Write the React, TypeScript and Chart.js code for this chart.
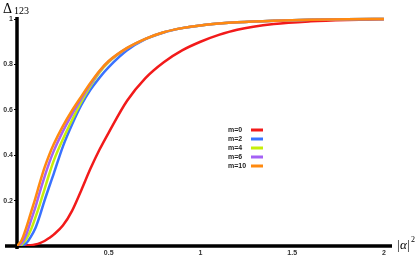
import React, { useEffect, useRef } from "react";
import { Chart, registerables } from "chart.js";

Chart.register(...registerables);

const xs = [0, 0.025, 0.05, 0.075, 0.1, 0.125, 0.15, 0.175, 0.2, 0.25, 0.3, 0.35, 0.4, 0.45, 0.5, 0.6, 0.7, 0.8, 0.9, 1.0, 1.1, 1.2, 1.4, 1.6, 1.8, 2.0];

const m0 = [0, 0.0005, 0.001, 0.003, 0.007, 0.013, 0.022, 0.035, 0.05, 0.09, 0.155, 0.245, 0.34, 0.425, 0.5, 0.64, 0.74, 0.81, 0.862, 0.9, 0.93, 0.953, 0.978, 0.99, 0.996, 0.999];
const m2 = [0, 0.002, 0.012, 0.04, 0.078, 0.135, 0.2, 0.26, 0.318, 0.438, 0.535, 0.62, 0.688, 0.742, 0.788, 0.862, 0.911, 0.941, 0.96, 0.972, 0.98, 0.986, 0.993, 0.997, 0.999, 1.0];
const m4 = [0, 0.006, 0.03, 0.07, 0.125, 0.185, 0.25, 0.315, 0.375, 0.47, 0.555, 0.635, 0.705, 0.765, 0.81, 0.871, 0.913, 0.942, 0.96, 0.972, 0.98, 0.986, 0.993, 0.997, 0.999, 1.0];
const m6 = [0, 0.012, 0.05, 0.11, 0.17, 0.24, 0.305, 0.365, 0.418, 0.505, 0.58, 0.648, 0.712, 0.77, 0.814, 0.872, 0.913, 0.942, 0.96, 0.972, 0.98, 0.986, 0.993, 0.997, 0.999, 1.0];
const m10 = [0, 0.025, 0.08, 0.145, 0.21, 0.28, 0.345, 0.4, 0.448, 0.528, 0.597, 0.658, 0.718, 0.772, 0.815, 0.873, 0.913, 0.942, 0.96, 0.972, 0.98, 0.986, 0.993, 0.997, 0.999, 1.0];

const seriesLabels = ["m=0", "m=2", "m=4", "m=6", "m=10"];
const seriesColors = ["#f21a1a", "#3a72ff", "#c6ef0a", "#a461f5", "#ff8a10"];
const seriesValues = [m0, m2, m4, m6, m10];

const xTicks = [0.5, 1, 1.5, 2];
const yTicks = [0.2, 0.4, 0.6, 0.8, 1];

const decorPlugin = {
  id: "decor",
  beforeDatasetsDraw(chart: any) {
    const { ctx, chartArea } = chart;
    ctx.save();
    ctx.strokeStyle = "#000";
    ctx.lineWidth = 3.5;
    ctx.beginPath();
    ctx.moveTo(5, chartArea.bottom);
    ctx.lineTo(chartArea.right, chartArea.bottom);
    ctx.moveTo(chartArea.left, chartArea.top);
    ctx.lineTo(chartArea.left, chartArea.bottom + 3);
    ctx.stroke();
    ctx.restore();
  },
  afterDraw(chart: any) {
    const { ctx } = chart;
    ctx.save();
    // y title
    ctx.fillStyle = "#000";
    ctx.textBaseline = "alphabetic";
    ctx.textAlign = "left";
    ctx.font = '14px "Liberation Serif"';
    ctx.fillText("Δ", 3, 13);
    ctx.font = '10px "Liberation Serif"';
    ctx.fillText("123", 14, 14);
    // x title
    ctx.font = '13px "Liberation Serif"';
    ctx.fillText("|", 397, 249);
    ctx.font = 'italic 13px "Liberation Serif"';
    ctx.fillText("α", 400, 249);
    ctx.font = '13px "Liberation Serif"';
    ctx.fillText("|", 407, 249);
    ctx.font = '8px "Liberation Serif"';
    ctx.fillText("2", 411, 242);
    // legend
    const rows = [130, 139, 148, 157, 166];
    seriesLabels.forEach((label, i) => {
      const y = rows[i];
      ctx.font = 'bold 7px "Liberation Sans"';
      ctx.fillStyle = "#222";
      ctx.textBaseline = "middle";
      ctx.fillText(label, 228, y);
      ctx.strokeStyle = seriesColors[i];
      ctx.lineWidth = 3;
      ctx.beginPath();
      ctx.moveTo(251, y);
      ctx.lineTo(263, y);
      ctx.stroke();
    });
    ctx.restore();
  },
};

export default function App() {
  const ref = useRef<HTMLCanvasElement>(null);
  useEffect(() => {
    if (!ref.current) return;
    const chart = new Chart(ref.current, {
      type: "line",
      data: {
        datasets: seriesValues.map((vals, i) => ({
          label: seriesLabels[i],
          data: xs.map((x, j) => ({ x, y: vals[j] })),
          borderColor: seriesColors[i],
          borderWidth: 2.5,
          pointRadius: 0,
          fill: false,
          order: seriesValues.length - 1 - i,
          cubicInterpolationMode: "monotone" as const,
        })),
      },
      options: {
        animation: false,
        responsive: false,
        devicePixelRatio: 1,
        layout: { padding: { top: 17, right: 24, left: 0, bottom: 0 } },
        plugins: { legend: { display: false }, tooltip: { enabled: false } },
        scales: {
          x: {
            type: "linear",
            min: 0,
            max: 2.044,
            grid: { display: false, drawTicks: false },
            border: { display: false },
            afterFit: (s: any) => { s.height = 22; },
            afterBuildTicks: (s: any) => { s.ticks = xTicks.map((v) => ({ value: v })); },
            ticks: {
              padding: 3,
              maxRotation: 0,
              autoSkip: false,
              color: "#333",
              font: { family: "Liberation Sans", size: 7, weight: "bold" },
              callback: (v: any) => String(v),
            },
          },
          y: {
            type: "linear",
            min: 0,
            max: 1.009,
            grid: { display: true, drawOnChartArea: false, drawTicks: true, tickLength: 3, color: "#000" },
            border: { display: false },
            afterFit: (s: any) => { s.width = 17; },
            afterBuildTicks: (s: any) => { s.ticks = yTicks.map((v) => ({ value: v })); },
            ticks: {
              padding: 1,
              autoSkip: false,
              color: "#333",
              font: { family: "Liberation Sans", size: 7, weight: "bold" },
              callback: (v: any) => String(v),
            },
          },
        },
      },
      plugins: [decorPlugin],
    });
    return () => chart.destroy();
  }, []);
  return (
    <canvas
      ref={ref}
      width={416}
      height={268}
      style={{ position: "absolute", left: 0, top: 0, width: 416, height: 268, display: "block" }}
    />
  );
}
